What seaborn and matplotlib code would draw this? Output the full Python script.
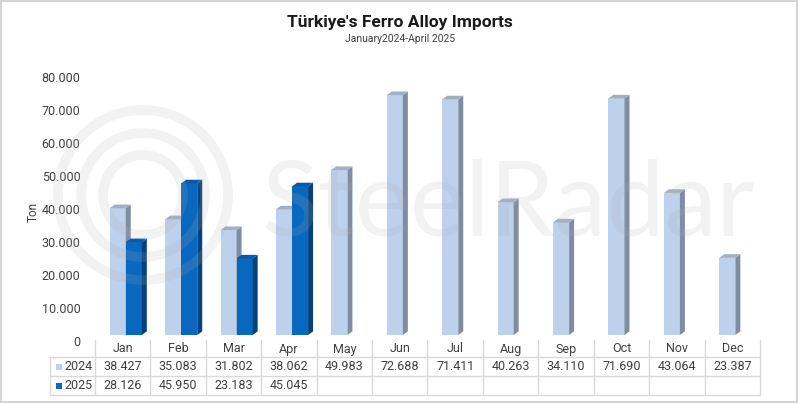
import numpy as np
import pandas as pd
import matplotlib
matplotlib.use("Agg")
import matplotlib.pyplot as plt
import matplotlib.transforms as mtransforms
from matplotlib.patches import Polygon, Rectangle, Ellipse
from matplotlib.lines import Line2D
import seaborn as sns

months = ["Jan", "Feb", "Mar", "Apr", "May", "Jun",
          "Jul", "Aug", "Sep", "Oct", "Nov", "Dec"]
years = ["2024", "2025"]
imports_2024 = [38427, 35083, 31802, 38062, 49983, 72688,
                71411, 40263, 34110, 71690, 43064, 23387]
imports_2025 = [28126, 45950, 23183, 45045]
yticks = [0, 10000, 20000, 30000, 40000, 50000, 60000, 70000, 80000]

light_front, light_side, light_top = "#BDD0EC", "#7F8DA3", "#A2AFC2"
dark_front, dark_side, dark_top = "#0868BF", "#03427C", "#0A58A6"


def tr_num(v):
    # Turkish style thousands separator
    return f"{v:,}".replace(",", ".")


vals_2025 = imports_2025 + [np.nan] * (len(months) - len(imports_2025))
df = pd.DataFrame({
    "month": months * 2,
    "year": ["2024"] * 12 + ["2025"] * 12,
    "ton": imports_2024 + vals_2025,
})

sns.set_style("white")
plt.rcParams["font.family"] = ["Roboto", "DejaVu Sans"]

W, H = 800, 404
fig = plt.figure(figsize=(8, 4.04), dpi=100)


def fx(px):
    return px / W


def fy(py):
    return 1 - py / H


ax = fig.add_axes([fx(95), fy(340), fx(760) - fx(95), fy(71) - fy(340)])
ax.patch.set_alpha(0)

sns.barplot(data=df, x="month", y="ton", hue="year", order=months,
            hue_order=years, palette=[light_front, dark_front],
            width=0.58, saturation=1, legend=False, ax=ax,
            edgecolor="none", linewidth=0, err_kws={"linewidth": 0})

ax.set_xlim(-0.5, 11.5)
ax.set_ylim(-1515, 80000)

# fake 3D look: side and top faces from each bar's geometry
dx, dy = 0.09, 1100
for p in list(ax.patches):
    h = p.get_height()
    if not np.isfinite(h) or h == 0:
        continue
    p.set_x(p.get_x() + 0.055)
    x0, w = p.get_x(), p.get_width()
    x1 = x0 + w
    is_dark = np.allclose(p.get_facecolor()[:3], matplotlib.colors.to_rgb(dark_front), atol=0.02)
    side_c, top_c = (dark_side, dark_top) if is_dark else (light_side, light_top)
    z = 3 if is_dark else 2
    p.set_zorder(z)
    ax.add_patch(Polygon([(x1, 0), (x1 + dx, dy), (x1 + dx, h + dy), (x1, h)],
                         closed=True, facecolor=side_c, edgecolor="none", zorder=z))
    ax.add_patch(Polygon([(x0, h), (x0 + dx, h + dy), (x1 + dx, h + dy), (x1, h)],
                         closed=True, facecolor=top_c, edgecolor="none", zorder=z))

for s in ax.spines.values():
    s.set_visible(False)
ax.set_xlabel("")
ax.set_ylabel("")
ax.tick_params(axis="x", bottom=False, labelbottom=False)
ax.set_yticks(yticks)
ax.set_yticklabels([tr_num(v) for v in yticks])
ax.tick_params(axis="y", left=False, pad=7, labelsize=9, labelcolor="#404040")
off = mtransforms.ScaledTranslation(0, -6 / 100, fig.dpi_scale_trans)
for lab in ax.get_yticklabels():
    lab.set_transform(lab.get_transform() + off)

# watermark, a faint overlay on top of everything
wm, wa = "#B0B0B0", 0.16
fig.text(fx(508), fy(206), "SteelRadar", ha="center", va="center",
         fontsize=75, color=wm, alpha=wa, family="Lato", zorder=10)
for r in (85, 62, 40):
    fig.add_artist(Ellipse((fx(143), fy(195)), 2 * r / W, 2 * r / H,
                           transform=fig.transFigure, fill=False,
                           edgecolor=wm, alpha=wa, linewidth=7, zorder=10))

# titles
fig.text(0.5, fy(22), "Türkiye's Ferro Alloy Imports", ha="center", va="center",
         fontsize=12.5, fontweight="bold", color="#1A1A1A")
fig.text(0.5, fy(39), "January2024-April 2025", ha="center", va="center",
         fontsize=7.5, color="#404040")
fig.text(fx(33), fy(212), "Ton", rotation=90, ha="center", va="center",
         fontsize=8.5, color="#404040")

# data table under the bars
tb = mtransforms.blended_transform_factory(ax.transData, fig.transFigure)
grid = "#D9D9D9"
row_y = [fy(349), fy(366.5), fy(385.5)]
for yy in (fy(357), fy(376), fy(395)):
    fig.add_artist(Line2D([fx(50), fx(760)], [yy, yy], color=grid, lw=1))
for i in range(len(months) + 1):
    xx = i - 0.5
    fig.add_artist(Line2D([xx, xx], [fy(340), fy(395)], transform=tb, color=grid, lw=1))
fig.add_artist(Line2D([fx(50), fx(50)], [fy(357), fy(395)], color=grid, lw=1))

tkw = dict(ha="center", va="center", fontsize=9, color="#404040")
for i, m in enumerate(months):
    fig.text(i, row_y[0], m, transform=tb, **tkw)
    fig.text(i, row_y[1], tr_num(imports_2024[i]), transform=tb, **tkw)
for i, v in enumerate(imports_2025):
    fig.text(i, row_y[2], tr_num(v), transform=tb, **tkw)
for yy, yr, c in zip(row_y[1:], years, [light_front, dark_front]):
    fig.add_artist(Rectangle((fx(56), yy - 3 / H), 6 / W, 6 / H, facecolor=c,
                             edgecolor="none", transform=fig.transFigure))
    fig.text(fx(64), yy, yr, ha="left", va="center", fontsize=9, color="#404040")

fig.add_artist(Rectangle((fx(1), fy(402)), fx(796), 401 / H, fill=False,
                         edgecolor="#D4D4D4", lw=1.5, transform=fig.transFigure))

fig.savefig("out.png", dpi=100, facecolor="white")
